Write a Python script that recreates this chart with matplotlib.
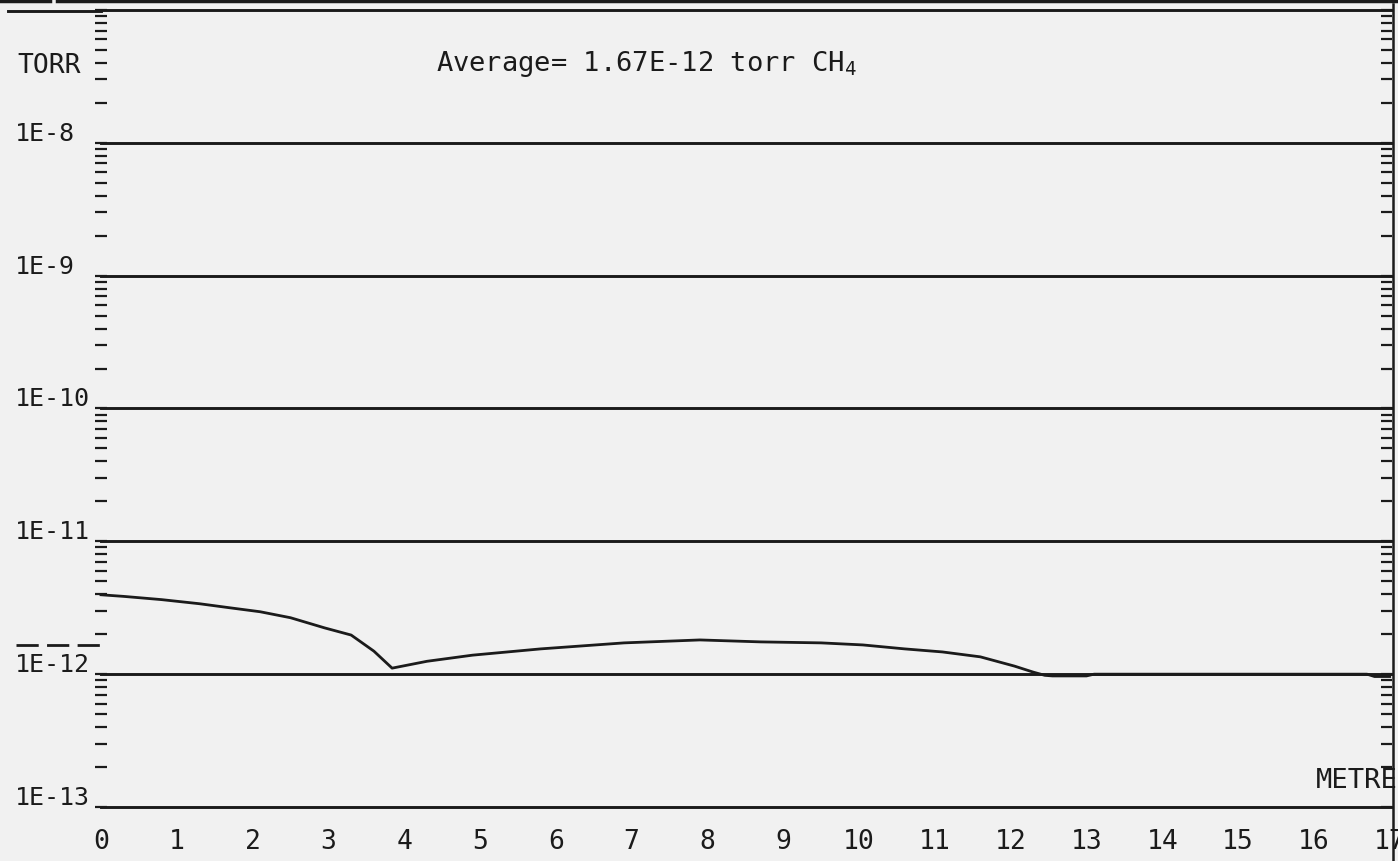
import matplotlib
matplotlib.use("Agg")
import matplotlib.pyplot as plt
from matplotlib.lines import Line2D
from matplotlib.ticker import LogLocator, NullFormatter, FixedLocator

# --- DATA ---
metre = [0, 0.3, 0.8, 1.3, 1.7, 2.1, 2.5, 2.95, 3.3, 3.6, 3.84, 4.3, 4.9, 5.8,
         6.9, 7.9, 8.7, 9.5, 10.05, 10.6, 11.1, 11.6, 12.05, 12.3, 12.45,
         12.55, 13.0, 13.1, 16.0, 16.7, 16.8, 17.0]
torr = [3.96e-12, 3.85e-12, 3.64e-12, 3.39e-12, 3.16e-12, 2.95e-12, 2.66e-12,
        2.23e-12, 1.97e-12, 1.49e-12, 1.11e-12, 1.25e-12, 1.39e-12, 1.55e-12,
        1.72e-12, 1.81e-12, 1.75e-12, 1.72e-12, 1.66e-12, 1.55e-12, 1.47e-12,
        1.35e-12, 1.15e-12, 1.035e-12, 0.98e-12, 0.97e-12, 0.97e-12, 1.0e-12,
        1.0e-12, 1.0e-12, 0.96e-12, 0.96e-12]
average = 1.67e-12
decades = [1e-8, 1e-9, 1e-10, 1e-11, 1e-12, 1e-13]
decade_labels = ["1E-8", "1E-9", "1E-10", "1E-11", "1E-12", "1E-13"]
x_ticks = list(range(0, 18))

INK = "#1b1b1b"
PAPER = "#f1f1f1"
FONT = "DejaVu Sans Mono"

plt.rcParams["mathtext.fontset"] = "custom"
plt.rcParams["mathtext.rm"] = FONT
plt.rcParams["mathtext.it"] = FONT

W, H = 1398, 861
fig = plt.figure(figsize=(W / 100, H / 100), dpi=100, facecolor=PAPER)
ax = fig.add_axes([101 / W, 1 - 807 / H, (1392 - 101) / W, (807 - 10) / H])
ax.set_facecolor(PAPER)
ax.set_yscale("log")
ax.set_ylim(1e-13, 1e-7)
ax.set_xlim(0, 17.03)

for s in ax.spines.values():
    s.set_visible(False)

# decade lines
for d in decades + [1e-7]:
    ax.axhline(d, color=INK, lw=2.1, zorder=2, clip_on=False)

# pressure profile
ax.plot(metre, torr, color=INK, lw=2.0, zorder=3, clip_on=False)

# average marker on the left
ax.plot([-1.12, 0], [average, average], color=INK, lw=2.0,
        dashes=(8, 3), clip_on=False)

# y ticks (left: through the axis, right: inward)
ax.yaxis.set_major_locator(LogLocator(base=10, numticks=20))
ax.yaxis.set_minor_locator(LogLocator(base=10, subs=range(2, 10), numticks=20))
ax.yaxis.set_major_formatter(NullFormatter())
ax.yaxis.set_minor_formatter(NullFormatter())
ax.tick_params(axis="y", which="both", direction="inout", length=8.5,
               width=1.6, color=INK)

ax2 = ax.twinx()
ax2.set_yscale("log")
ax2.set_ylim(ax.get_ylim())
for s in ax2.spines.values():
    s.set_visible(False)
ax2.yaxis.set_major_locator(LogLocator(base=10, numticks=20))
ax2.yaxis.set_minor_locator(LogLocator(base=10, subs=range(2, 10), numticks=20))
ax2.yaxis.set_major_formatter(NullFormatter())
ax2.yaxis.set_minor_formatter(NullFormatter())
ax2.tick_params(axis="y", which="both", direction="in", length=8, width=1.6,
                color=INK, pad=0)

# decade labels
for d, lab in zip(decades, decade_labels):
    ax.annotate(lab, xy=(0, d), xytext=(-86, 2), textcoords="offset pixels",
                ha="left", va="baseline", fontsize=18, family=FONT, color=INK,
                annotation_clip=False)

# x tick labels
ax.xaxis.set_major_locator(FixedLocator(x_ticks))
ax.set_xticklabels([str(v) for v in x_ticks], fontsize=19, family=FONT,
                   color=INK)
ax.tick_params(axis="x", length=0, pad=16)

# texts
fig.text(17 / W, 1 - 66 / H, "TORR", fontsize=19, family=FONT, color=INK,
         ha="left", va="center")
fig.text(436 / W, 1 - 64 / H, "Average= 1.67E-12 torr CH$_4$", fontsize=19.5,
         family=FONT, color=INK, ha="left", va="center")
fig.text(1316 / W, 1 - 781 / H, "METRE", fontsize=19.5, family=FONT, color=INK,
         ha="left", va="center")

# frame pieces of the plotter sheet
fig.add_artist(Line2D([8 / W, 101 / W], [1 - 11 / H, 1 - 11 / H], color=INK,
                      lw=2.1, transform=fig.transFigure))
fig.add_artist(Line2D([1393 / W, 1393 / W], [0, 1 - 4 / H], color=INK,
                      lw=1.8, transform=fig.transFigure))
fig.add_artist(Line2D([0, 50 / W], [1 - 1 / H, 1 - 1 / H], color=INK,
                      lw=2.5, transform=fig.transFigure))
fig.add_artist(Line2D([57 / W, 1], [1 - 1 / H, 1 - 1 / H], color=INK,
                      lw=2.5, transform=fig.transFigure))

fig.savefig("out.png", dpi=100, facecolor=PAPER)
